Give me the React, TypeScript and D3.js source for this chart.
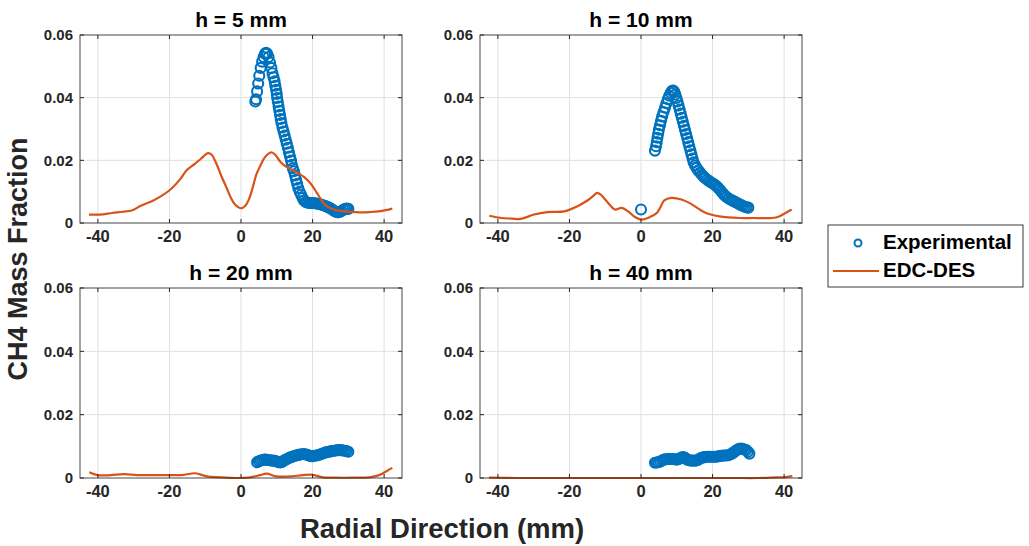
import React from 'react';
import * as d3 from 'd3';

const xTicks = [-40, -20, 0, 20, 40];
const yTicks = [0, 0.02, 0.04, 0.06];
const yTickLabels = ['0', '0.02', '0.04', '0.06'];
const panelTitles = ['h = 5 mm', 'h = 10 mm', 'h = 20 mm', 'h = 40 mm'];
const seriesNames = ['Experimental', 'EDC-DES'];

type P = [number, number];

const exp5: P[] = [
  [4.0, 0.0388], [4.2, 0.0395], [4.5, 0.042], [4.8, 0.0445], [5.1, 0.047], [5.5, 0.0495], [5.9, 0.0515],
  [6.3, 0.053], [6.7, 0.054], [7.0, 0.0543], [7.3, 0.0541], [7.7, 0.053], [8.1, 0.0512], [8.5, 0.0495],
  [8.8, 0.0478], [9.1, 0.0465], [9.4, 0.0452], [9.6, 0.0438], [9.8, 0.0425], [10.0, 0.0412], [10.1, 0.0399],
  [10.3, 0.0386], [10.5, 0.0372], [10.7, 0.0358], [10.9, 0.0345], [11.1, 0.0332], [11.3, 0.0319],
  [11.6, 0.0305], [11.9, 0.0292], [12.2, 0.0279], [12.5, 0.0266], [12.8, 0.0253], [13.1, 0.024],
  [13.4, 0.0226], [13.7, 0.0212], [14.0, 0.0199], [14.2, 0.0186], [14.5, 0.0175], [14.8, 0.0165],
  [15.1, 0.0152], [15.4, 0.0138], [15.7, 0.0125], [16.0, 0.0112], [16.4, 0.01], [16.8, 0.009],
  [17.2, 0.008], [17.6, 0.0072], [18.1, 0.0067], [18.6, 0.0065], [19.1, 0.0064], [19.6, 0.0064],
  [20.1, 0.0064], [20.6, 0.0063], [21.1, 0.0062], [21.6, 0.0061], [22.1, 0.006], [22.6, 0.0058],
  [23.1, 0.0056], [23.6, 0.0054], [24.1, 0.0052], [24.6, 0.0049], [25.1, 0.0046], [25.6, 0.0042],
  [26.1, 0.0038], [26.6, 0.0035], [27.1, 0.0034], [27.6, 0.0035], [28.1, 0.0038], [28.6, 0.0042],
  [29.1, 0.0045], [29.6, 0.0046], [30.0, 0.0045],
];

const sim5: P[] = [
  [-42.5, 0.0027], [-39.5, 0.0027], [-36, 0.0032], [-33, 0.0036], [-30.5, 0.004], [-28, 0.0055],
  [-24.5, 0.0072], [-22, 0.0088], [-19.8, 0.0106], [-17, 0.014], [-15.2, 0.0168], [-13, 0.0188],
  [-11.2, 0.0205], [-9.2, 0.0223], [-8.2, 0.0218], [-6.9, 0.019], [-5.5, 0.015], [-4.1, 0.0114],
  [-2.8, 0.008], [-1.6, 0.0058], [0, 0.0047], [1.2, 0.0055], [2.2, 0.0075], [3.2, 0.011], [4.3, 0.0155],
  [5.5, 0.0185], [6.5, 0.0207], [7.5, 0.022], [8.7, 0.0225], [9.8, 0.0215], [10.8, 0.0198], [12, 0.0185],
  [13.4, 0.0175], [15, 0.0165], [16.2, 0.0157], [17.5, 0.0148], [18.9, 0.0133], [20, 0.0118],
  [21.2, 0.0096], [22.4, 0.0075], [23.5, 0.0058], [25, 0.0047], [26.5, 0.0041], [28, 0.0038],
  [30, 0.0036], [33, 0.0034], [36, 0.0035], [38.5, 0.0037], [40.5, 0.0041], [42.3, 0.0046],
];

const exp10: P[] = [
  [0.0, 0.0043],
  [3.9, 0.0231], [4.2, 0.0245], [4.4, 0.0258], [4.6, 0.0272], [4.8, 0.0285], [5.0, 0.0298], [5.3, 0.0312],
  [5.6, 0.0326], [5.9, 0.034], [6.3, 0.0354], [6.7, 0.0368], [7.1, 0.0382], [7.5, 0.0395], [7.9, 0.0406],
  [8.3, 0.0416], [8.7, 0.0422], [9.0, 0.0423], [9.3, 0.0419], [9.6, 0.041], [9.9, 0.0399], [10.2, 0.0388],
  [10.5, 0.0375], [10.8, 0.0362], [11.1, 0.0349], [11.4, 0.0336], [11.7, 0.0323], [12.0, 0.031],
  [12.3, 0.0297], [12.6, 0.0284], [12.9, 0.0271], [13.2, 0.0258], [13.5, 0.0245], [13.8, 0.0232],
  [14.1, 0.0219], [14.4, 0.0206], [14.7, 0.0194], [15.1, 0.0184], [15.5, 0.0176], [16.0, 0.0168],
  [16.5, 0.0161], [17.0, 0.0154], [17.5, 0.0148], [18.0, 0.0143], [18.5, 0.0138], [19.0, 0.0134],
  [19.5, 0.013], [20.0, 0.0127], [20.5, 0.0123], [21.0, 0.0119], [21.5, 0.0113], [22.0, 0.0107],
  [22.5, 0.01], [23.0, 0.0093], [23.5, 0.0087], [24.0, 0.0082], [24.5, 0.0078], [25.0, 0.0075],
  [25.5, 0.0072], [26.0, 0.0069], [26.5, 0.0066], [27.0, 0.0063], [27.5, 0.006], [28.0, 0.0057],
  [28.5, 0.0054], [29.0, 0.0052], [29.5, 0.005], [30.0, 0.0049],
];

const sim10: P[] = [
  [-42.4, 0.0023], [-39.1, 0.0016], [-36, 0.0014], [-33.6, 0.0013], [-29.9, 0.0027], [-26.2, 0.0035],
  [-21.5, 0.0037], [-17.9, 0.0053], [-15.1, 0.0071], [-13.5, 0.0085], [-12.3, 0.0096], [-11.2, 0.009],
  [-10.0, 0.0075], [-8.5, 0.0055], [-7.3, 0.0043], [-5.4, 0.0048], [-3.6, 0.0037], [-1.7, 0.0019],
  [0.2, 0.0011], [2.5, 0.0019], [4.4, 0.0032], [5.5, 0.0052], [6.5, 0.0072], [8.5, 0.008], [11.3, 0.0075],
  [14.0, 0.0061], [17.3, 0.0037], [19.5, 0.0027], [21.9, 0.0021], [27.5, 0.0016], [31.2, 0.0016],
  [36.7, 0.0016], [38.6, 0.0021], [40.4, 0.0032], [42.1, 0.0043],
];

const exp20: P[] = [
  [4.5, 0.005], [5.0, 0.0053], [5.5, 0.0055], [6.0, 0.0057], [6.5, 0.0058], [7.0, 0.0058], [7.5, 0.0057],
  [8.0, 0.0056], [8.5, 0.0055], [9.0, 0.0055], [9.5, 0.0054], [10.0, 0.0052], [10.5, 0.005], [11.0, 0.0049],
  [11.5, 0.0051], [12.0, 0.0055], [12.5, 0.0058], [13.0, 0.0061], [13.5, 0.0064], [14.0, 0.0066],
  [14.5, 0.0068], [15.0, 0.007], [15.5, 0.0071], [16.0, 0.0073], [16.5, 0.0074], [17.0, 0.0075],
  [17.5, 0.0076], [18.0, 0.0075], [18.5, 0.0073], [19.0, 0.0071], [19.5, 0.0069], [20.0, 0.0069],
  [20.5, 0.007], [21.0, 0.0071], [21.5, 0.0072], [22.0, 0.0074], [22.5, 0.0076], [23.0, 0.0078],
  [23.5, 0.008], [24.0, 0.0082], [24.5, 0.0083], [25.0, 0.0084], [25.5, 0.0085], [26.0, 0.0086],
  [26.5, 0.0087], [27.0, 0.0088], [27.5, 0.0088], [28.0, 0.0088], [28.5, 0.0087], [29.0, 0.0086],
  [29.5, 0.0085], [30.0, 0.0083],
];

const sim20: P[] = [
  [-42.4, 0.0018], [-40.1, 0.0009], [-36.4, 0.0009], [-32.7, 0.0012], [-29.0, 0.0009], [-24.4, 0.0009],
  [-19.7, 0.0009], [-16.0, 0.001], [-12.8, 0.0015], [-9.5, 0.0005], [-5.8, 0.0002], [-1.2, 0.0],
  [2.5, 0.0002], [5.3, 0.0009], [7.1, 0.0014], [9.9, 0.0005], [13.6, 0.0005], [17.3, 0.0009],
  [20.1, 0.001], [22.9, 0.0002], [26.6, 0.0001], [31.2, 0.0001], [35.8, 0.0002], [38.6, 0.0009],
  [40.9, 0.0023], [42.3, 0.0032],
];

const exp40: P[] = [
  [3.9, 0.0048], [4.4, 0.0049], [4.9, 0.005], [5.4, 0.0052], [5.9, 0.0055], [6.4, 0.0058], [6.9, 0.0059],
  [7.4, 0.006], [7.9, 0.006], [8.4, 0.006], [8.9, 0.006], [9.4, 0.0059], [9.9, 0.0058], [10.4, 0.0059],
  [10.9, 0.0062], [11.4, 0.0065], [11.9, 0.0066], [12.4, 0.0063], [12.9, 0.0058], [13.4, 0.0056],
  [13.9, 0.0055], [14.4, 0.0055], [14.9, 0.0055], [15.4, 0.0055], [15.9, 0.0057], [16.4, 0.0061],
  [16.9, 0.0064], [17.4, 0.0065], [17.9, 0.0066], [18.4, 0.0067], [18.9, 0.0067], [19.4, 0.0067],
  [19.9, 0.0067], [20.4, 0.0067], [20.9, 0.0067], [21.4, 0.0068], [21.9, 0.0069], [22.4, 0.007],
  [22.9, 0.0071], [23.4, 0.0071], [23.9, 0.0071], [24.4, 0.0072], [24.9, 0.0074], [25.4, 0.0077],
  [25.9, 0.0081], [26.4, 0.0085], [26.9, 0.0089], [27.4, 0.0092], [27.9, 0.0093], [28.4, 0.0092],
  [28.9, 0.009], [29.4, 0.0088], [29.9, 0.0083], [30.3, 0.0077],
];

const sim40: P[] = [
  [-42.5, 0.0001], [-35, 0.0], [-25, 0.0], [-15, 0.0], [-5, 0.0], [5, 0.0], [15, 0.0], [25, 0.0],
  [33, 0.0], [36, 0.0001], [38.5, 0.0002], [40.5, 0.0003], [42.3, 0.0006],
];

const expSeries = [exp5, exp10, exp20, exp40];
const simSeries = [sim5, sim10, sim20, sim40];

const FONT = "'Liberation Sans', Arial, Helvetica, sans-serif";
const BLUE = '#0072BD';
const ORANGE = '#D95319';
const AXIS = '#262626';
const GRID = '#e0e0e0';

const panelBoxes = [
  { left: 80, top: 35, width: 322, height: 188 },
  { left: 480, top: 35, width: 322, height: 188 },
  { left: 80, top: 288, width: 322, height: 190 },
  { left: 480, top: 288, width: 322, height: 190 },
];

function Panel({ idx }: { idx: number }) {
  const b = panelBoxes[idx];
  const x = d3.scaleLinear().domain([-45, 45]).range([b.left, b.left + b.width]);
  const y = d3.scaleLinear().domain([0, 0.06]).range([b.top + b.height, b.top]);
  const line = d3
    .line<P>()
    .x((d) => x(d[0]))
    .y((d) => y(d[1]))
    .curve(d3.curveCatmullRom.alpha(0.5));
  const tickLen = 4;
  const bottom = b.top + b.height;
  const right = b.left + b.width;
  return (
    <g>
      {xTicks.map((t) => (
        <line key={'gx' + t} x1={x(t)} x2={x(t)} y1={b.top} y2={bottom} stroke={GRID} strokeWidth={1} />
      ))}
      {yTicks.slice(1, -1).map((t) => (
        <line key={'gy' + t} x1={b.left} x2={right} y1={y(t)} y2={y(t)} stroke={GRID} strokeWidth={1} />
      ))}
      {expSeries[idx].map((d, i) => (
        <circle key={'c' + i} cx={x(d[0])} cy={y(d[1])} r={5} fill="none" stroke={BLUE} strokeWidth={2.1} />
      ))}
      <path d={line(simSeries[idx]) || ''} fill="none" stroke={ORANGE} strokeWidth={2.2} />
      <rect x={b.left} y={b.top} width={b.width} height={b.height} fill="none" stroke={AXIS} strokeWidth={1} opacity={0.85} />
      {xTicks.map((t) => (
        <g key={'tx' + t}>
          <line x1={x(t)} x2={x(t)} y1={bottom} y2={bottom - tickLen} stroke={AXIS} />
          <line x1={x(t)} x2={x(t)} y1={b.top} y2={b.top + tickLen} stroke={AXIS} />
          <text
            x={x(t)}
            y={bottom + 19}
            textAnchor="middle"
            fontFamily={FONT}
            fontWeight="bold"
            fontSize={16.5}
            fill={AXIS}
          >
            {String(t)}
          </text>
        </g>
      ))}
      {yTicks.map((t, i) => (
        <g key={'ty' + t}>
          <line x1={b.left} x2={b.left + tickLen} y1={y(t)} y2={y(t)} stroke={AXIS} />
          <line x1={right} x2={right - tickLen} y1={y(t)} y2={y(t)} stroke={AXIS} />
          <text
            x={b.left - 7}
            y={y(t)}
            dy="0.35em"
            textAnchor="end"
            fontFamily={FONT}
            fontWeight="bold"
            fontSize={15}
            fill={AXIS}
          >
            {yTickLabels[i]}
          </text>
        </g>
      ))}
      <text
        x={(b.left + right) / 2}
        y={b.top - 8}
        textAnchor="middle"
        fontFamily={FONT}
        fontWeight="bold"
        fontSize={21}
        fill="#000"
      >
        {panelTitles[idx]}
      </text>
    </g>
  );
}

export default function App() {
  return (
    <svg
      width={1029}
      height={546}
      viewBox="0 0 1029 546"
      style={{ position: 'absolute', left: 0, top: 0, background: '#fff' }}
    >
      <rect x={0} y={0} width={1029} height={546} fill="#fff" />
      {panelBoxes.map((_, i) => (
        <Panel key={i} idx={i} />
      ))}
      <text
        x={442}
        y={538}
        textAnchor="middle"
        fontFamily={FONT}
        fontWeight="bold"
        fontSize={27.5}
        fill={AXIS}
      >
        Radial Direction (mm)
      </text>
      <text
        transform="translate(27,259) rotate(-90)"
        textAnchor="middle"
        fontFamily={FONT}
        fontWeight="bold"
        fontSize={27}
        fill={AXIS}
      >
        CH4 Mass Fraction
      </text>
      <g>
        <rect x={828} y={225} width={195} height={62} fill="#fff" stroke="#262626" strokeWidth={1} opacity={0.9} />
        <circle cx={858} cy={243} r={3.5} fill="none" stroke={BLUE} strokeWidth={2} />
        <text x={883} y={249} fontFamily={FONT} fontWeight="bold" fontSize={20.5} fill="#000">
          {seriesNames[0]}
        </text>
        <line x1={833} x2={879} y1={271} y2={271} stroke={ORANGE} strokeWidth={2.2} />
        <text x={883} y={277} fontFamily={FONT} fontWeight="bold" fontSize={20.5} fill="#000">
          {seriesNames[1]}
        </text>
      </g>
    </svg>
  );
}
